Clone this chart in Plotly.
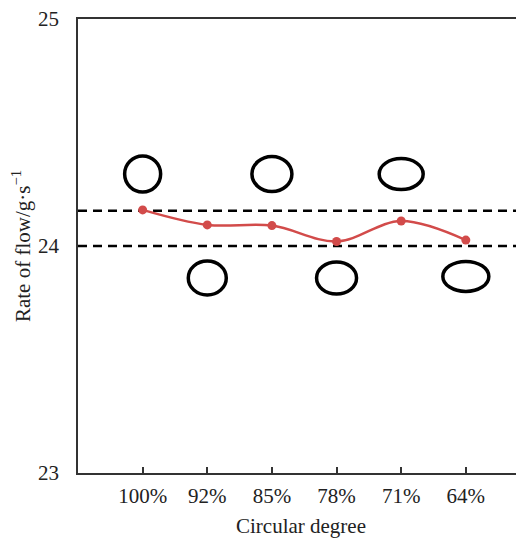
import plotly.graph_objects as go

# ---- data ----
categories = ["100%", "92%", "85%", "78%", "71%", "64%"]
flow_rate = [24.159, 24.093, 24.090, 24.020, 24.110, 24.026]
ref_lines = [24.155, 24.0]

# cross-section ellipses (category index, y level, width px, height px)
ellipse_idx = [0, 1, 2, 3, 4, 5]
ellipse_y = [24.317, 23.859, 24.317, 23.859, 24.317, 23.866]
ellipse_w = [36, 38, 40, 40, 44, 46]
ellipse_h = [36, 34, 35, 32, 31, 30]

xs = list(range(len(categories)))

fig = go.Figure()
fig.add_trace(go.Scatter(
    x=xs, y=flow_rate, mode="lines+markers",
    line=dict(color="#d24b4a", width=2.5, shape="spline", smoothing=1),
    marker=dict(color="#d24b4a", size=9),
    showlegend=False, hoverinfo="skip",
))

for v in ref_lines:
    fig.add_shape(type="line", xref="paper", yref="y", x0=0, x1=1, y0=v, y1=v,
                  line=dict(color="black", width=2.5, dash="9px,6px"), layer="below")

for i, yy, w, h in zip(ellipse_idx, ellipse_y, ellipse_w, ellipse_h):
    fig.add_shape(type="circle", xref="x", yref="y",
                  xsizemode="pixel", ysizemode="pixel",
                  xanchor=i, yanchor=yy,
                  x0=-w / 2, x1=w / 2, y0=-h / 2, y1=h / 2,
                  line=dict(color="black", width=3.5))

font = dict(family="Times New Roman, Liberation Serif, serif", color="#222", size=21)

fig.update_layout(
    width=516, height=530,
    margin=dict(l=70, r=0, t=11, b=65),
    plot_bgcolor="white", paper_bgcolor="white",
    font=font,
    xaxis=dict(
        range=[-1.0, 5.9], tickmode="array", tickvals=xs, ticktext=categories,
        tickfont=font,
        showline=True, linecolor="#333", linewidth=1.5, mirror=True,
        ticks="inside", ticklen=6, tickcolor="#333", tickwidth=1.5,
        showgrid=False, zeroline=False, ticklabelstandoff=3,
        title=dict(text="Circular degree", standoff=12, font=font),
    ),
    yaxis=dict(
        range=[23, 25], tickvals=[23, 24, 25], tickfont=font,
        showline=True, linecolor="#333", linewidth=1.5,
        ticks="", showgrid=False, zeroline=False, ticklabelstandoff=13,
        ticklabeloverflow="allow",
        title=dict(text="Rate of flow/g·s<sup>−1</sup>", standoff=12, font=font),
    ),
)

fig.write_html("out.html")
